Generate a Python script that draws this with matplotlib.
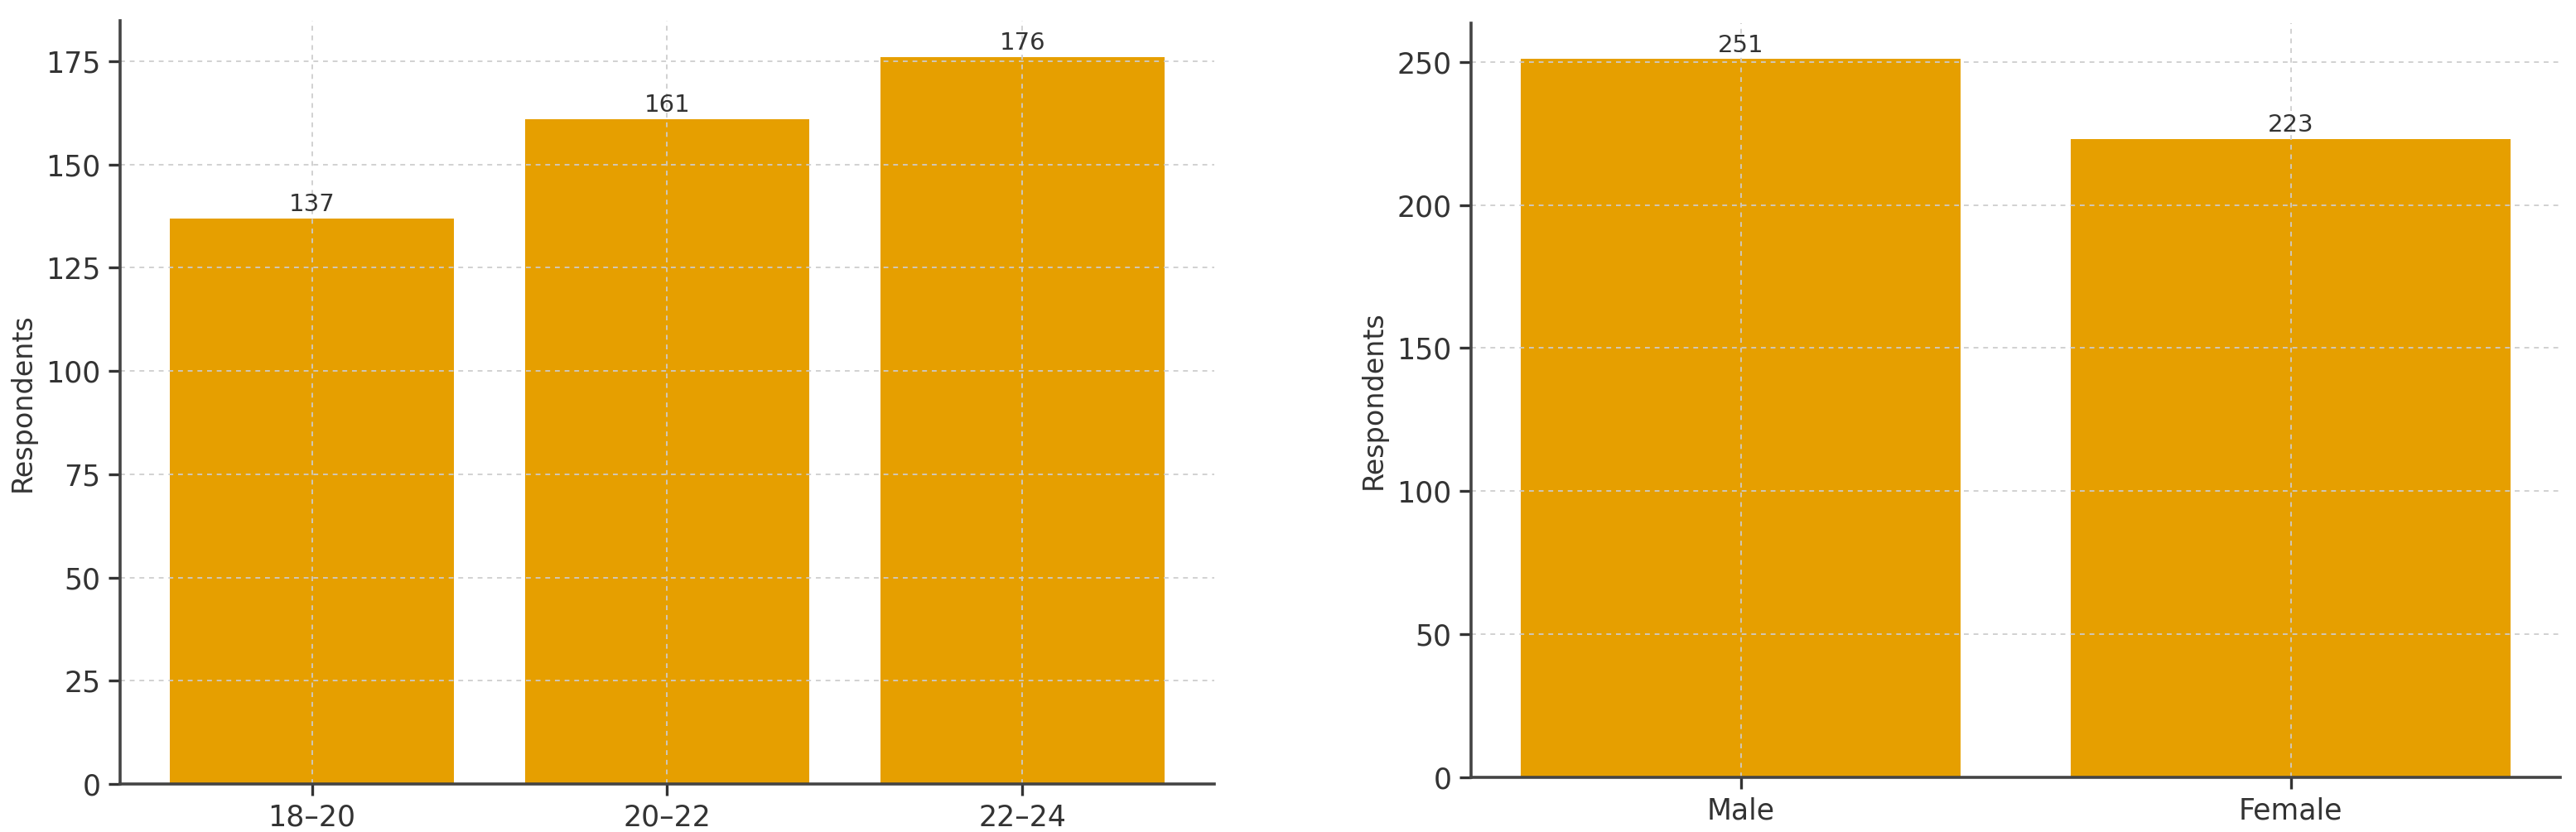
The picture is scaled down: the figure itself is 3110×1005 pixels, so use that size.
import matplotlib.pyplot as plt

age_groups = ["18–20", "20–22", "22–24"]
age_counts = [137, 161, 176]

genders = ["Male", "Female"]
gender_counts = [251, 223]

bar_color = "#E69F00"
text_color = "#333333"

plt.rcParams["font.family"] = "DejaVu Sans"
plt.rcParams["text.color"] = text_color
plt.rcParams["axes.labelcolor"] = text_color
plt.rcParams["xtick.color"] = text_color
plt.rcParams["ytick.color"] = text_color

fig = plt.figure(figsize=(15.55, 5.025), dpi=200)
ax1 = fig.add_axes([0.0466, 0.0577, 0.4248, 0.9174])
ax2 = fig.add_axes([0.5711, 0.0657, 0.4228, 0.9065])


def draw(ax, cats, vals):
    x = list(range(len(cats)))
    bars = ax.bar(x, vals, width=0.8, color=bar_color, zorder=1)
    ax.set_xticks(x)
    ax.set_xticklabels(cats)
    ax.bar_label(bars, labels=[str(v) for v in vals], padding=1, fontsize=10.5,
                 color=text_color)
    ax.set_ylabel("Respondents", fontsize=12)
    ax.tick_params(labelsize=12.5, length=5, width=1.2)
    ax.grid(True, linestyle=(0, (3, 3)), color="#cccccc", linewidth=0.7,
            alpha=0.9, zorder=2)
    ax.set_axisbelow(False)
    for s in ["top", "right"]:
        ax.spines[s].set_visible(False)
    for s in ["left", "bottom"]:
        ax.spines[s].set_color("#444444")
        ax.spines[s].set_linewidth(1.3)
        ax.spines[s].set_zorder(3)


draw(ax1, age_groups, age_counts)
draw(ax2, genders, gender_counts)

fig.savefig("out.png", dpi=200)
